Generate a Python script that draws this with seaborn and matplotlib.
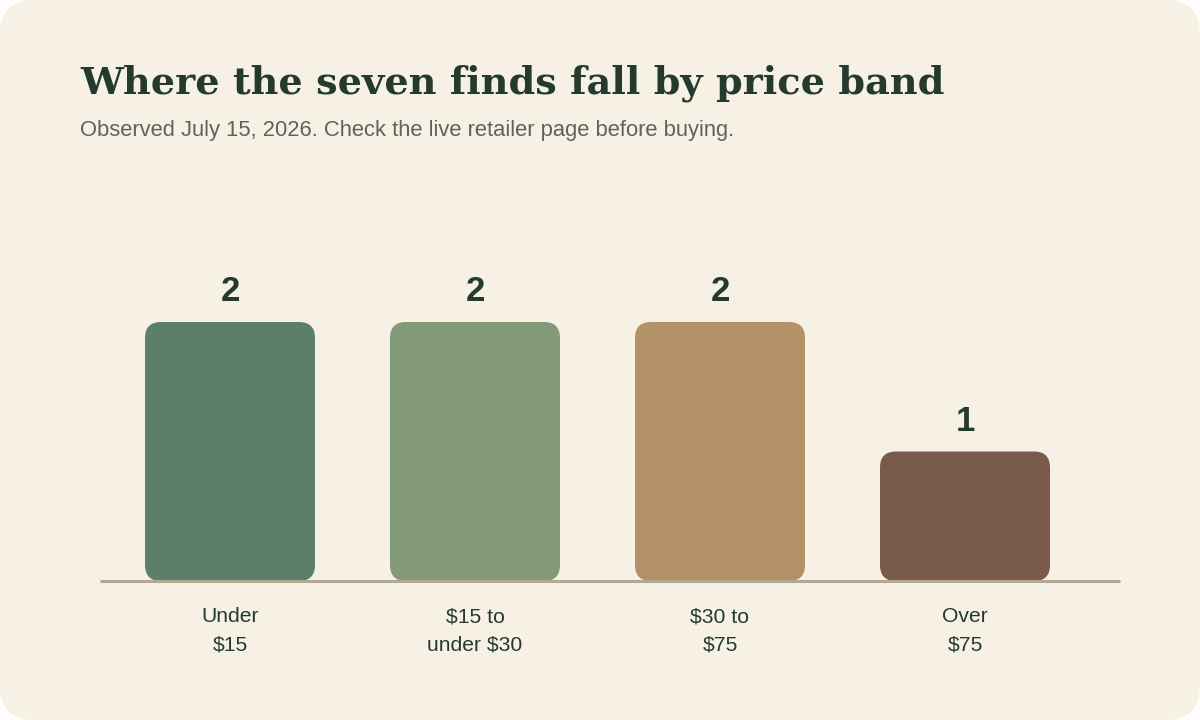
import seaborn as sns
import matplotlib.pyplot as plt
import pandas as pd
from matplotlib.patches import FancyBboxPatch

# data
bands = ['Under\n$15', '$15 to\nunder $30', '$30 to\n$75', 'Over\n$75']
counts = [2, 2, 2, 1]
bar_colors = ['#5c7f6b', '#829a78', '#b39268', '#7a5b4b']

title = 'Where the seven finds fall by price band'
subtitle = 'Observed July 15, 2026. Check the live retailer page before buying.'

BG = '#f7f0e5'
INK = '#243a2f'

sns.set_theme(style='white')
plt.rcParams['font.family'] = ['Liberation Sans', 'DejaVu Sans']

fig = plt.figure(figsize=(12, 7.2), dpi=100)
fig.patch.set_facecolor('white')

# rounded card behind everything
card = FancyBboxPatch((0, 0), 1, 1, boxstyle='round,pad=0,rounding_size=0.028',
                      mutation_aspect=1200 / 720, transform=fig.transFigure,
                      facecolor=BG, edgecolor='none', zorder=-10)
fig.patches.append(card)

ax = fig.add_axes([100 / 1200, 1 - 581 / 720, 1020 / 1200, 401 / 720])
ax.set_facecolor('none')

df = pd.DataFrame({'band': bands, 'count': counts})
sns.barplot(data=df, x='band', y='count', hue='band', palette=bar_colors,
            saturation=1, width=170 / 245, legend=False, ax=ax)

ax.set_xlim(-130 / 245, 890 / 245)
ax.set_ylim(0, 401 / 129.5)

# swap the square bars for rounded ones
px_x = 1 / 245
px_y = 1 / 129.5
r = 16 * px_x
for p in list(ax.patches):
    x, w, h = p.get_x(), p.get_width(), p.get_height()
    fc = p.get_facecolor()
    p.remove()
    ax.add_patch(FancyBboxPatch((x, 0), w, h,
                                boxstyle=f'round,pad=0,rounding_size={r}',
                                mutation_aspect=px_y / px_x,
                                facecolor=fc, edgecolor='none', zorder=2))
    ax.annotate(f'{int(h)}', (x + w / 2, h), xytext=(0, 15), textcoords='offset points',
                ha='center', va='baseline', fontsize=25, fontweight='bold', color=INK)

sns.despine(ax=ax, left=True)
ax.spines['bottom'].set_color('#b3a892')
ax.spines['bottom'].set_linewidth(2.2)
ax.spines['bottom'].set_capstyle('butt')
ax.spines['bottom'].set_zorder(3)
ax.set_yticks([])
ax.set_xlabel('')
ax.set_ylabel('')
ax.tick_params(axis='x', length=0, pad=19, labelsize=15.2, labelcolor=INK)
for lbl in ax.get_xticklabels():
    lbl.set_linespacing(1.62)

fig.text(80 / 1200, 1 - 93 / 720, title, fontsize=27.5, fontweight='bold',
         family=['DejaVu Serif'], color=INK, ha='left', va='baseline')
fig.text(80 / 1200, 1 - 136 / 720, subtitle, fontsize=15.8, color='#5f625c',
         ha='left', va='baseline')

fig.savefig('out.png', dpi=100, facecolor=fig.get_facecolor())
